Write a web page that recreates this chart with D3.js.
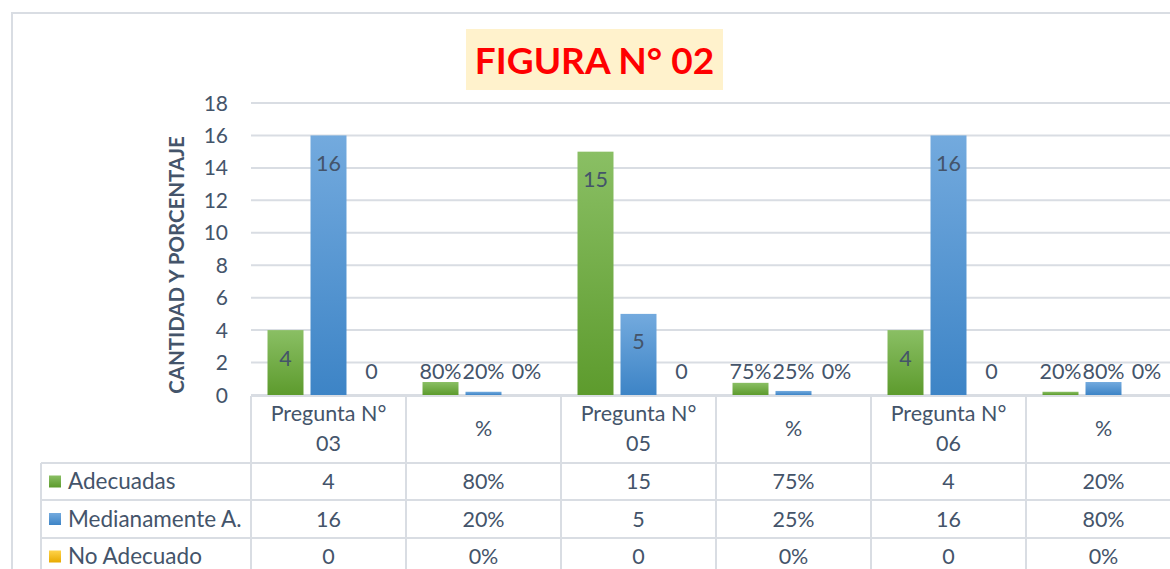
<!DOCTYPE html>
<html>
<head>
<meta charset="utf-8">
<script src="https://d3js.org/d3.v7.min.js"></script>
<style>
  html, body { margin: 0; padding: 0; background: #fff; }
  svg text { font-family: Lato, "Open Sans", sans-serif; fill: #44546a; }
  .grid line { stroke: #d9dde3; stroke-width: 2; }
  .tbl line { stroke: #d9dde3; stroke-width: 2; }
</style>
</head>
<body>
<div id="chart"></div>
<script>
// chart data
var categories = ["Pregunta N°\n03", "%", "Pregunta N°\n05", "%", "Pregunta N°\n06", "%"];
var seriesNames = ["Adecuadas", "Medianamente A.", "No Adecuado"];
var adecuadas = [4, 0.80, 15, 0.75, 4, 0.20];
var medianamente = [16, 0.20, 5, 0.25, 16, 0.80];
var noAdecuado = [0, 0, 0, 0, 0, 0];
var yTicks = [0, 2, 4, 6, 8, 10, 12, 14, 16, 18];
var titleText = "FIGURA N° 02";
var yTitle = "CANTIDAD Y PORCENTAJE";

var seriesValues = [adecuadas, medianamente, noAdecuado];
var seriesColors = [["#8abf64", "#5d9b2d"], ["#73aade", "#3d84c6"], ["#ffd34a", "#e8aa00"]];

var W = 1170, H = 569;
var plot = {left: 251, right: 1181, top: 103, bottom: 395};
var fs = 21.5;

var svg = d3.select("#chart").append("svg")
    .attr("width", W).attr("height", H);

var defs = svg.append("defs");
seriesColors.forEach(function(c, i) {
    var g = defs.append("linearGradient").attr("id", "grad" + i)
        .attr("x1", 0).attr("y1", 0).attr("x2", 0).attr("y2", 1);
    g.append("stop").attr("offset", "0%").attr("stop-color", c[0]);
    g.append("stop").attr("offset", "100%").attr("stop-color", c[1]);
});

// outer frame
svg.append("path")
    .attr("d", "M12,569 V13 H1170")
    .attr("fill", "none").attr("stroke", "#d9dde3").attr("stroke-width", 2);

// title
var titleG = svg.append("g");
titleG.append("rect").attr("x", 466).attr("y", 29).attr("width", 257).attr("height", 61)
    .attr("fill", "#fff2cc");
titleG.append("text").attr("x", 594.5).attr("y", 74)
    .attr("text-anchor", "middle")
    .style("font-size", "37px").style("font-weight", "bold").style("fill", "#ff0000")
    .text(titleText);

var y = d3.scaleLinear().domain([0, 18]).range([plot.bottom, plot.top]);
var x = d3.scaleBand().domain(d3.range(categories.length)).range([plot.left, plot.right]);
var xs = d3.scaleBand().domain(d3.range(seriesNames.length)).range([0, x.bandwidth()])
    .paddingInner(0.163).paddingOuter(0.384);

// gridlines
svg.append("g").attr("class", "grid")
    .selectAll("line").data(yTicks).enter().append("line")
    .attr("x1", plot.left).attr("x2", W)
    .attr("y1", function(d) { return y(d); }).attr("y2", function(d) { return y(d); });

// y axis labels
svg.append("g").selectAll("text").data(yTicks).enter().append("text")
    .attr("x", 228).attr("y", function(d) { return y(d) + 7.5; })
    .attr("text-anchor", "end")
    .style("font-size", "21px")
    .text(function(d) { return d; });

svg.append("text")
    .attr("transform", "translate(184," + ((plot.top + plot.bottom) / 2 + 16) + ") rotate(-90)")
    .attr("text-anchor", "middle")
    .style("font-size", "20.5px").style("font-weight", "bold")
    .text(yTitle);

function fmt(v, i) {
    return categories[i] === "%" ? Math.round(v * 100) + "%" : String(v);
}

// bars
seriesValues.forEach(function(vals, s) {
    var g = svg.append("g");
    g.selectAll("rect").data(vals).enter().append("rect")
        .attr("x", function(d, i) { return x(i) + xs(s); })
        .attr("width", xs.bandwidth())
        .attr("y", function(d) { return y(d); })
        .attr("height", function(d) { return y(0) - y(d); })
        .attr("fill", "url(#grad" + s + ")");
    g.selectAll("text").data(vals).enter().append("text")
        .attr("x", function(d, i) { return x(i) + xs(s) + xs.bandwidth() / 2; })
        .attr("y", function(d) { return Math.min(y(d) + 28, y(0) - 24) + 7.5; })
        .attr("text-anchor", "middle")
        .style("font-size", fs + "px")
        .text(function(d, i) { return fmt(d, i); });
});

// data table
var tbl = svg.append("g").attr("class", "tbl");
var rowLines = [463, 500, 538];
var rowCenters = [481.5, 519, 556.5];
var tblLeft = 41;

tbl.append("line").attr("x1", plot.left).attr("x2", W).attr("y1", 396).attr("y2", 396);
rowLines.forEach(function(r) {
    tbl.append("line").attr("x1", tblLeft).attr("x2", W).attr("y1", r).attr("y2", r);
});
tbl.append("line").attr("x1", tblLeft).attr("x2", tblLeft).attr("y1", 463).attr("y2", H);
d3.range(categories.length + 1).forEach(function(i) {
    var xx = i < categories.length ? x(i) : plot.right;
    tbl.append("line").attr("x1", xx).attr("x2", xx).attr("y1", 396).attr("y2", H);
});

// header cells
categories.forEach(function(c, i) {
    var lines = c.split("\n");
    var t = tbl.append("text").attr("text-anchor", "middle").style("font-size", fs + "px");
    var cx = x(i) + x.bandwidth() / 2;
    if (lines.length === 1) {
        t.attr("x", cx).attr("y", 436).text(lines[0]);
    } else {
        lines.forEach(function(l, k) {
            t.append("tspan").attr("x", cx).attr("y", 421 + k * 30).text(l);
        });
    }
});

// legend keys + values
seriesNames.forEach(function(name, s) {
    var cy = rowCenters[s];
    tbl.append("rect").attr("x", 49).attr("y", cy - 6).attr("width", 12).attr("height", 12)
        .attr("fill", "url(#grad" + s + ")");
    tbl.append("text").attr("x", 68).attr("y", cy + 7.5).style("font-size", "22.5px").text(name);
    seriesValues[s].forEach(function(v, i) {
        tbl.append("text").attr("x", x(i) + x.bandwidth() / 2).attr("y", cy + 7.5)
            .attr("text-anchor", "middle").style("font-size", fs + "px")
            .text(fmt(v, i));
    });
});
</script>
</body>
</html>
